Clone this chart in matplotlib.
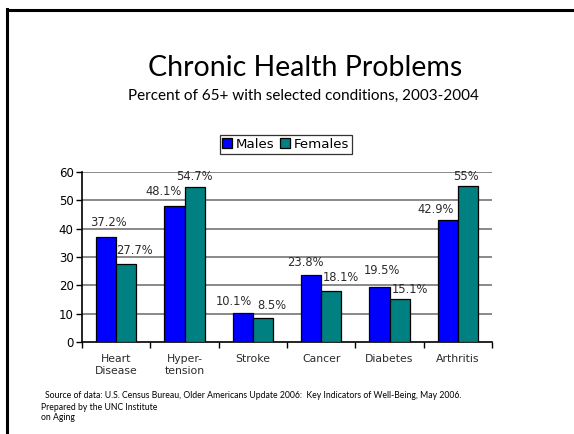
import matplotlib
matplotlib.use("Agg")
import matplotlib.pyplot as plt
import numpy as np
from matplotlib.lines import Line2D

categories = ["Heart\nDisease", "Hyper-\ntension", "Stroke", "Cancer", "Diabetes", "Arthritis"]
males = [37.2, 48.1, 10.1, 23.8, 19.5, 42.9]
females = [27.7, 54.7, 8.5, 18.1, 15.1, 55.0]
male_labels = ["37.2%", "48.1%", "10.1%", "23.8%", "19.5%", "42.9%"]
female_labels = ["27.7%", "54.7%", "8.5%", "18.1%", "15.1%", "55%"]
yticks = [0, 10, 20, 30, 40, 50, 60]

# label nudges (pixels) to keep neighbouring value labels apart
male_dx = [2, -11, -9, -6, 2, -12]
male_dy = [14, 14, 12, 12, 16, 11]
female_dx = [8, 0, 9, 10, 10, -2]
female_dy = [13, 11, 12, 13, 10, 10]

W, H = 574, 434
fig = plt.figure(figsize=(W / 100, H / 100), dpi=100)
fig.patch.set_facecolor("white")

# slide frame
fig.add_artist(Line2D([6.5 / W, 6.5 / W], [0, 1 - 8.5 / H], color="black", lw=2.2,
                      transform=fig.transFigure, solid_capstyle="projecting"))
fig.add_artist(Line2D([6.5 / W, 1], [1 - 9.5 / H, 1 - 9.5 / H], color="black", lw=2.2,
                      transform=fig.transFigure, solid_capstyle="projecting"))

fig.text(305 / W, 1 - 68 / H, "Chronic Health Problems", ha="center", va="center",
         fontsize=20.5, family="Lato")
fig.text(303 / W, 1 - 96 / H, "Percent of 65+ with selected conditions, 2003-2004",
         ha="center", va="center", fontsize=11, family="Lato")

fig.text(45 / W, 1 - 396 / H,
         "Source of data: U.S. Census Bureau, Older Americans Update 2006:  Key Indicators of Well-Being, May 2006.",
         ha="left", va="center", fontsize=6.2, family="Lato")
fig.text(41 / W, 1 - 407 / H, "Prepared by the UNC Institute", ha="left", va="center",
         fontsize=6.2, family="Lato")
fig.text(41 / W, 1 - 418 / H, "on Aging", ha="left", va="center",
         fontsize=6.2, family="Lato")

ax = fig.add_axes([82 / W, 1 - 342 / H, (492 - 82) / W, (342 - 172) / H])
x = np.arange(len(categories))
w = 0.293
bm = ax.bar(x - w / 2, males, w, color="#0000FF", edgecolor="black", linewidth=0.9,
            label="Males", zorder=3)
bf = ax.bar(x + w / 2, females, w, color="#008080", edgecolor="black", linewidth=0.9,
            label="Females", zorder=3)

for bars, labels, dxs, dys in ((bm, male_labels, male_dx, male_dy),
                               (bf, female_labels, female_dx, female_dy)):
    for b, t, dx, dy in zip(bars, labels, dxs, dys):
        ax.annotate(t, (b.get_x() + b.get_width() / 2, b.get_height()),
                    xytext=(dx, dy), textcoords="offset pixels", ha="center", va="center",
                    fontsize=8.3, color="#2b2b2b", family="DejaVu Sans", zorder=4)

ax.set_xlim(-0.5, len(categories) - 0.5)
ax.set_ylim(0, 60)
ax.set_yticks(yticks)
ax.set_yticklabels([str(v) for v in yticks], fontsize=8.5)
for v in yticks[1:]:
    ax.axhline(v, color="#808080", lw=1.3, zorder=1)

ax.set_xticks(x)
ax.set_xticklabels(categories, fontsize=7.8, color="#2b2b2b", linespacing=1.25)
ax.tick_params(axis="x", length=0, pad=9)
ax.set_xticks(np.arange(-0.5, len(categories)), minor=True)
ax.tick_params(axis="x", which="minor", length=4, width=1, direction="out")
ax.tick_params(axis="y", length=4, width=1, direction="out", pad=2)

for s in ("top", "right"):
    ax.spines[s].set_visible(False)
ax.spines["left"].set_linewidth(1.2)
ax.spines["bottom"].set_linewidth(1.2)

leg = fig.legend(handles=[bm, bf], loc="center", bbox_to_anchor=(285.5 / W, 1 - 144.5 / H),
                 ncol=2, frameon=True, fancybox=False, edgecolor="black", fontsize=9.6,
                 handlelength=0.75, handleheight=0.75, handletextpad=0.25, columnspacing=0.45,
                 borderpad=0.2, borderaxespad=0)
leg.get_frame().set_linewidth(0.9)

fig.savefig("out.png", dpi=100, facecolor="white")
